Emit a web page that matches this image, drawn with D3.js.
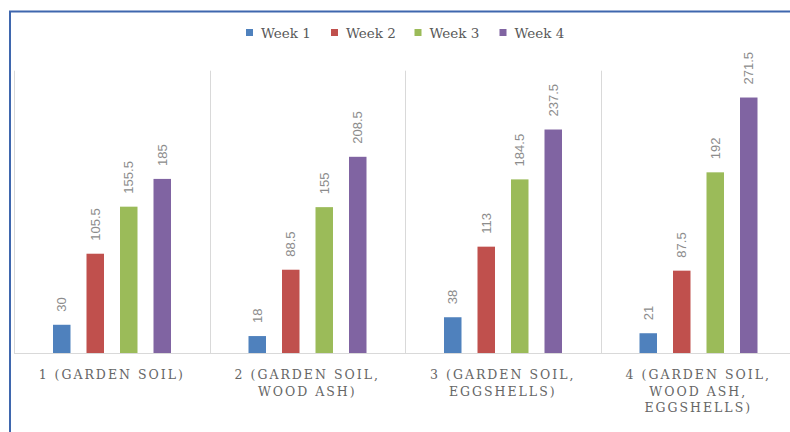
<!DOCTYPE html>
<html>
<head>
<meta charset="utf-8">
<script src="https://cdn.jsdelivr.net/npm/d3@7"></script>
<style>
  html, body { margin: 0; padding: 0; background: #fff; }
  svg { display: block; }
</style>
</head>
<body>
<svg id="chart" width="790" height="432"></svg>
<script>
// chart data
const categories = ['1 (GARDEN SOIL)', '2 (GARDEN SOIL, WOOD ASH)', '3 (GARDEN SOIL, EGGSHELLS)', '4 (GARDEN SOIL, WOOD ASH, EGGSHELLS)'];
const weeks = ['Week 1', 'Week 2', 'Week 3', 'Week 4'];
const week1 = [30, 18, 38, 21];
const week2 = [105.5, 88.5, 113, 87.5];
const week3 = [155.5, 155, 184.5, 192];
const week4 = [185, 208.5, 237.5, 271.5];
const colors = ['#4f81bd', '#c0504d', '#9bbb59', '#8064a2'];

const series = [week1, week2, week3, week4];

const svg = d3.select('#chart');
const plot = {left: 14, top: 70.7, bottom: 353, groupW: 195.5};

// blue frame around the chart object
svg.append('path')
  .attr('d', 'M10,432 V11.5 H790')
  .attr('fill', 'none')
  .attr('stroke', '#3f67ae')
  .attr('stroke-width', 2);

const x0 = d3.scaleBand()
  .domain(categories)
  .range([plot.left, plot.left + plot.groupW * categories.length]);

const x1 = d3.scaleBand()
  .domain(weeks)
  .range([39, 157])
  .paddingInner(16 / 33.5);

const y = d3.scaleLinear()
  .domain([0, 300])
  .range([plot.bottom, plot.top]);

// group divider lines
const dividers = categories.map(c => x0(c)).concat([x0.range()[1]]);
svg.append('g').selectAll('line')
  .data(dividers)
  .join('line')
  .attr('x1', d => Math.round(d) + 0.5)
  .attr('x2', d => Math.round(d) + 0.5)
  .attr('y1', y(300))
  .attr('y2', plot.bottom)
  .attr('stroke', '#d9d9d9')
  .attr('stroke-width', 1);

// bottom axis line
svg.append('line')
  .attr('x1', plot.left)
  .attr('x2', 790)
  .attr('y1', plot.bottom + 0.5)
  .attr('y2', plot.bottom + 0.5)
  .attr('stroke', '#d9d9d9');

// bars
const group = svg.append('g').selectAll('g')
  .data(categories)
  .join('g')
  .attr('transform', d => `translate(${x0(d)},0)`);

group.selectAll('rect')
  .data((d, i) => weeks.map((w, j) => ({week: w, value: series[j][i], color: colors[j]})))
  .join('rect')
  .attr('x', d => x1(d.week))
  .attr('width', x1.bandwidth())
  .attr('y', d => y(d.value))
  .attr('height', d => plot.bottom - y(d.value))
  .attr('fill', d => d.color);

// rotated value labels
group.selectAll('text.value')
  .data((d, i) => weeks.map((w, j) => ({week: w, value: series[j][i]})))
  .join('text')
  .attr('class', 'value')
  .attr('transform', d => `translate(${x1(d.week) + x1.bandwidth() / 2},${y(d.value) - 13}) rotate(-90)`)
  .attr('dy', '0.35em')
  .attr('text-anchor', 'start')
  .attr('font-family', 'Liberation Sans, Arial, sans-serif')
  .attr('font-size', 13)
  .attr('fill', '#8c8c8c')
  .text(d => d.value);

// category labels, wrapped
const catFont = 12.5;
svg.append('g').selectAll('text')
  .data(categories)
  .join('text')
  .attr('x', d => x0(d) + x0.bandwidth() / 2)
  .attr('y', 379)
  .attr('text-anchor', 'middle')
  .attr('font-family', 'DejaVu Serif, serif')
  .attr('font-size', catFont)
  .attr('letter-spacing', 2)
  .attr('fill', '#666')
  .each(function (d) {
    const text = d3.select(this);
    const words = d.split(' ');
    let line = [];
    let lines = [];
    const tspan = text.append('tspan');
    words.forEach(w => {
      line.push(w);
      tspan.text(line.join(' '));
      if (tspan.node().getComputedTextLength() > 175 && line.length > 1) {
        line.pop();
        lines.push(line.join(' '));
        line = [w];
      }
    });
    lines.push(line.join(' '));
    tspan.remove();
    lines.forEach((l, i) => {
      text.append('tspan')
        .attr('x', x0(d) + x0.bandwidth() / 2)
        .attr('dy', i ? 16.5 : 0)
        .text(l);
    });
  });

// legend
const legendX = [246, 331, 414.5, 499.5];
const legend = svg.append('g').selectAll('g')
  .data(weeks)
  .join('g')
  .attr('transform', (d, i) => `translate(${legendX[i]},29)`);

legend.append('rect')
  .attr('width', 7)
  .attr('height', 7)
  .attr('fill', (d, i) => colors[i]);

legend.append('text')
  .attr('x', 15)
  .attr('y', 8.5)
  .attr('font-family', 'DejaVu Serif, serif')
  .attr('font-size', 13.5)
  .attr('fill', '#595959')
  .text(d => d);
</script>
</body>
</html>
